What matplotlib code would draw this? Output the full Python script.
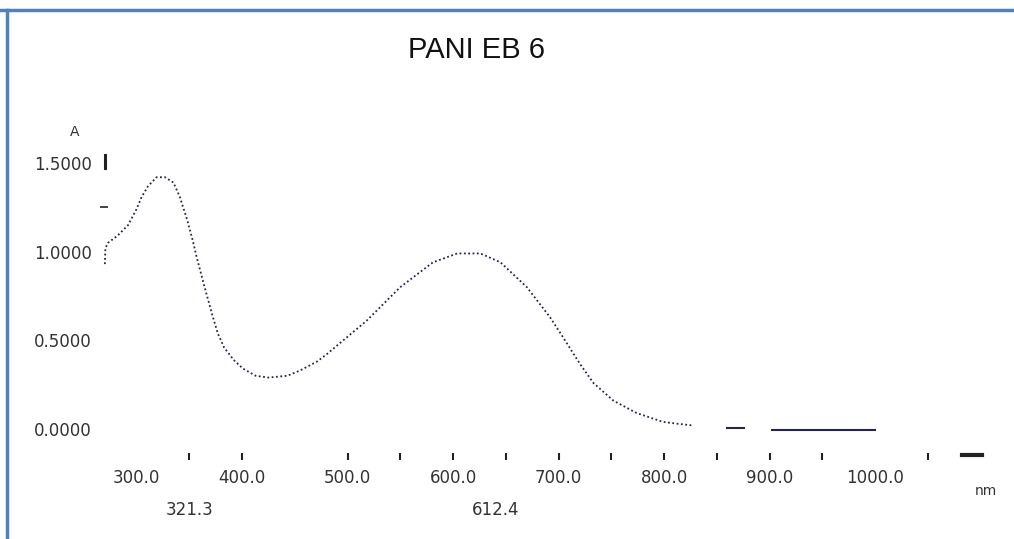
import matplotlib
matplotlib.use("Agg")
import matplotlib.pyplot as plt
from matplotlib.lines import Line2D

# spectrum (nm, absorbance)
wavelength = [270, 270.5, 273, 282, 292, 300, 305, 311, 319, 327, 335, 341, 348, 353, 357,
              365, 372, 377, 383, 392, 401, 413, 425, 443, 455, 471, 480, 486, 518,
              550, 581, 604, 626, 645, 670, 692, 704, 720, 733, 752, 774, 799, 812, 827]
absorb = [0.93, 1.02, 1.05, 1.09, 1.15, 1.24, 1.31, 1.37, 1.42, 1.42, 1.39, 1.31, 1.18, 1.07, 0.97,
          0.79, 0.64, 0.54, 0.46, 0.39, 0.34, 0.30, 0.29, 0.30, 0.33, 0.38, 0.42, 0.45, 0.61,
          0.80, 0.94, 0.99, 0.99, 0.94, 0.80, 0.63, 0.52, 0.37, 0.26, 0.16, 0.09, 0.04, 0.03, 0.02]

# flat tail, drawn solid in the original
tail1_nm = [860, 876]
tail1_abs = [0.005, 0.005]
tail2_nm = [902, 1000]
tail2_abs = [-0.006, -0.006]

peaks = [321.3, 612.4]
x_labels = [300, 400, 500, 600, 700, 800, 900, 1000]
x_marks = [350, 400, 500, 550, 600, 650, 700, 750, 800, 850, 900, 950, 1050]
y_labels = [0.0, 0.5, 1.0, 1.5]
y_marks = [1.25]

W, H = 1014, 539
fig = plt.figure(figsize=(W / 100, H / 100), dpi=100)
fig.patch.set_facecolor("white")

# axes placed in pixel terms
L, R, T, B = 100, 990, 140, 460
ax = fig.add_axes([L / W, 1 - B / H, (R - L) / W, (B - T) / H])
ax.set_xlim(265.4, 1109.0)
ax.set_ylim(-0.175, 1.630)
for s in ax.spines.values():
    s.set_visible(False)

col = "#23235a"
ax.plot(wavelength, absorb, color=col, lw=1.3, linestyle=(0, (1, 1.4)))
ax.plot(tail1_nm, tail1_abs, color=col, lw=1.5)
ax.plot(tail2_nm, tail2_abs, color=col, lw=1.5)

tick_font = dict(family="DejaVu Sans", size=12)
ax.xaxis.remove_overlapping_locs = False
ax.set_xticks(x_labels)
ax.set_xticklabels(["%.1f" % v for v in x_labels], color="#333333", **tick_font)
ax.set_xticks(x_marks, minor=True)
ax.tick_params(axis="x", which="major", length=0, pad=6.5)
ax.tick_params(axis="x", which="minor", direction="in", length=5, width=1.5, color="#222222")

ax.set_yticks(y_labels)
ax.set_yticklabels(["%.4f" % v for v in y_labels], color="#333333", **tick_font)
ax.set_yticks(y_marks, minor=True)
ax.tick_params(axis="y", which="major", length=0, pad=6)
ax.tick_params(axis="y", which="minor", direction="in", length=6, width=1.2, color="#222222")

for p in peaks:
    ax.annotate("%.1f" % p, xy=(p, -0.156), xycoords=ax.get_xaxis_transform(),
                xytext=(4.5, 0), textcoords="offset points", ha="left", va="center",
                color="#333333", **tick_font)

fig.text(477 / W, 1 - 50 / H, "PANI EB 6", family="Liberation Sans", size=21,
         ha="center", va="center", color="#111111")
fig.text(75 / W, 1 - 132 / H, "A", family="DejaVu Sans", size=10, ha="center",
         va="center", color="#333333")
fig.text(986 / W, 1 - 491 / H, "nm", family="DejaVu Sans", size=10, ha="center",
         va="center", color="#333333")

# axis arrows
fig.add_artist(Line2D([105 / W, 105 / W], [1 - 168 / H, 1 - 155 / H], color="#222222", lw=2.2))
fig.add_artist(Line2D([962 / W, 982 / W], [1 - 455 / H, 1 - 455 / H], color="#222222", lw=3))

# blue frame of the pasted picture
fig.add_artist(Line2D([0, 1], [1 - 9.5 / H, 1 - 9.5 / H], color="#4f81bd", lw=2.5))
fig.add_artist(Line2D([7 / W, 7 / W], [0, 1 - 9.5 / H], color="#4f81bd", lw=2.5))

fig.savefig("out.png", dpi=100, facecolor="white")
